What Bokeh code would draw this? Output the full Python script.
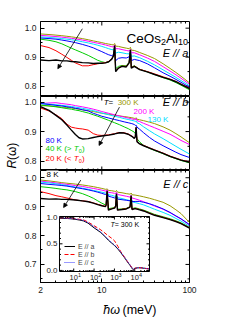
import math
from bokeh.plotting import figure
from bokeh.models import (Range1d, LogAxis, LinearAxis, FixedTicker, PrintfTickFormatter,
                          Label, Arrow, NormalHead, Legend, LegendItem)
from bokeh.layouts import column, row
from bokeh.embed import file_html
from bokeh.resources import INLINE

FONT = "Liberation Sans"

TEMPS = ["300 K", "200 K", "130 K", "80 K", "40 K", "20 K", "8 K"]
COLORS = ["#999900", "#ff00ff", "#00e0ff", "#0000ff", "#00cc00", "#ff0000", "#000000"]
WIDTHS = [1.0, 1.0, 1.0, 1.0, 1.0, 1.0, 1.4]

# ---------------- E // a ----------------
E_A = [2, 2.5, 3, 3.5, 4, 4.5, 5, 6, 7, 8, 9, 10, 11, 12, 13, 13.6, 14.0, 14.4, 15.5, 17,
       19, 20.5, 21.2, 21.7, 23.5, 27, 33, 40, 50, 60, 70, 80, 100]
RA_300 = [0.980, 0.978, 0.976, 0.974, 0.972, 0.970, 0.968, 0.964, 0.960, 0.956, 0.953, 0.950,
          0.947, 0.945, 0.943, 0.942, 0.947, 0.938, 0.937, 0.934, 0.931, 0.929, 0.934, 0.924,
          0.923, 0.916, 0.906, 0.895, 0.877, 0.861, 0.847, 0.834, 0.811]
RA_200 = [0.975, 0.973, 0.971, 0.969, 0.967, 0.965, 0.963, 0.959, 0.955, 0.951, 0.948, 0.945,
          0.942, 0.939, 0.936, 0.935, 0.942, 0.929, 0.929, 0.926, 0.923, 0.921, 0.927, 0.915,
          0.915, 0.908, 0.897, 0.885, 0.867, 0.852, 0.839, 0.827, 0.806]
RA_130 = [0.970, 0.968, 0.966, 0.964, 0.962, 0.960, 0.958, 0.953, 0.949, 0.945, 0.941, 0.937,
          0.933, 0.929, 0.926, 0.925, 0.934, 0.914, 0.917, 0.915, 0.912, 0.911, 0.921, 0.903,
          0.904, 0.898, 0.886, 0.873, 0.856, 0.842, 0.830, 0.819, 0.801]
RA_80 = [0.966, 0.964, 0.962, 0.959, 0.956, 0.953, 0.950, 0.944, 0.938, 0.932, 0.925, 0.919,
         0.913, 0.908, 0.905, 0.909, 0.930, 0.888, 0.896, 0.898, 0.897, 0.901, 0.918, 0.888,
         0.892, 0.888, 0.877, 0.863, 0.846, 0.834, 0.823, 0.813, 0.796]
RA_40 = [0.962, 0.958, 0.953, 0.946, 0.938, 0.931, 0.925, 0.915, 0.906, 0.897, 0.889, 0.884,
         0.881, 0.884, 0.893, 0.905, 0.930, 0.860, 0.868, 0.871, 0.870, 0.882, 0.915, 0.866,
         0.870, 0.858, 0.849, 0.840, 0.829, 0.821, 0.812, 0.803, 0.787]
RA_20 = [0.940, 0.933, 0.922, 0.910, 0.899, 0.889, 0.880, 0.870, 0.870, 0.874, 0.877, 0.879,
         0.881, 0.885, 0.894, 0.906, 0.937, 0.852, 0.863, 0.869, 0.868, 0.881, 0.921, 0.864,
         0.869, 0.858, 0.850, 0.842, 0.832, 0.824, 0.816, 0.807, 0.793]
RA_8 = [0.890, 0.888, 0.890, 0.887, 0.887, 0.885, 0.884, 0.881, 0.880, 0.878, 0.879, 0.879,
        0.880, 0.884, 0.893, 0.905, 0.940, 0.850, 0.862, 0.868, 0.866, 0.880, 0.925, 0.862,
        0.868, 0.857, 0.849, 0.840, 0.830, 0.823, 0.815, 0.806, 0.791]

# ---------------- E // b ----------------
E_B = [2, 2.5, 3, 3.5, 4, 4.5, 5, 5.5, 6, 7, 8, 9, 10, 12, 14, 16, 18, 20, 22, 23.5, 24.1,
       24.6, 25.2, 27, 30, 35, 40, 50, 60, 70, 80, 100]
RB_300 = [0.988, 0.987, 0.985, 0.983, 0.982, 0.980, 0.978, 0.976, 0.974, 0.971, 0.968, 0.965,
          0.962, 0.959, 0.956, 0.953, 0.951, 0.949, 0.947, 0.945, 0.944, 0.947, 0.942, 0.940,
          0.937, 0.932, 0.927, 0.916, 0.905, 0.893, 0.882, 0.862]
RB_200 = [0.995, 0.997, 0.998, 0.995, 0.993, 0.991, 0.988, 0.986, 0.984, 0.980, 0.976, 0.972,
          0.968, 0.962, 0.957, 0.953, 0.949, 0.946, 0.943, 0.941, 0.940, 0.945, 0.937, 0.934,
          0.928, 0.920, 0.913, 0.901, 0.891, 0.880, 0.870, 0.856]
RB_130 = [0.995, 0.993, 0.991, 0.989, 0.987, 0.985, 0.983, 0.981, 0.979, 0.975, 0.971, 0.967,
          0.963, 0.957, 0.952, 0.948, 0.944, 0.941, 0.938, 0.936, 0.934, 0.936, 0.930, 0.926,
          0.916, 0.903, 0.892, 0.876, 0.862, 0.850, 0.840, 0.824]
RB_80 = [0.995, 0.992, 0.989, 0.987, 0.984, 0.982, 0.979, 0.977, 0.974, 0.970, 0.962, 0.957,
         0.952, 0.946, 0.941, 0.937, 0.933, 0.930, 0.927, 0.924, 0.921, 0.922, 0.915, 0.908,
         0.896, 0.880, 0.868, 0.852, 0.840, 0.830, 0.822, 0.812]
RB_40 = [0.990, 0.987, 0.984, 0.981, 0.978, 0.976, 0.973, 0.971, 0.968, 0.963, 0.957, 0.952,
         0.947, 0.938, 0.930, 0.923, 0.916, 0.910, 0.903, 0.898, 0.893, 0.892, 0.876, 0.865,
         0.853, 0.843, 0.836, 0.825, 0.815, 0.808, 0.802, 0.794]
RB_20 = [0.980, 0.970, 0.957, 0.944, 0.925, 0.915, 0.912, 0.910, 0.909, 0.905, 0.893, 0.888,
         0.887, 0.889, 0.893, 0.897, 0.896, 0.892, 0.885, 0.878, 0.883, 0.912, 0.867, 0.859,
         0.853, 0.845, 0.838, 0.827, 0.817, 0.810, 0.804, 0.797]
RB_8 = [0.985, 0.972, 0.955, 0.940, 0.922, 0.905, 0.890, 0.879, 0.875, 0.876, 0.880, 0.883,
        0.885, 0.888, 0.892, 0.896, 0.895, 0.891, 0.884, 0.877, 0.882, 0.915, 0.866, 0.858,
        0.852, 0.844, 0.837, 0.826, 0.816, 0.809, 0.803, 0.796]

# ---------------- E // c ----------------
E_C = [2, 2.5, 3, 3.5, 4, 5, 6, 7, 8, 9, 10, 11, 11.2, 11.5, 11.9, 13, 14, 14.4, 14.7, 15.1,
       17, 19, 21, 21.3, 21.6, 22.1, 24, 27, 30, 35, 40, 50, 60, 70, 80, 100]
RC_300 = [0.992, 0.989, 0.986, 0.983, 0.981, 0.978, 0.975, 0.972, 0.969, 0.966, 0.963, 0.960,
          0.959, 0.962, 0.956, 0.955, 0.953, 0.952, 0.956, 0.950, 0.948, 0.945, 0.943, 0.944,
          0.947, 0.941, 0.940, 0.937, 0.934, 0.929, 0.924, 0.915, 0.903, 0.889, 0.876, 0.845]
RC_200 = [0.988, 0.985, 0.982, 0.979, 0.977, 0.973, 0.970, 0.966, 0.963, 0.960, 0.957, 0.954,
          0.953, 0.958, 0.949, 0.948, 0.946, 0.945, 0.950, 0.942, 0.939, 0.936, 0.933, 0.935,
          0.939, 0.930, 0.927, 0.922, 0.917, 0.909, 0.902, 0.891, 0.879, 0.867, 0.857, 0.836]
RC_130 = [0.985, 0.982, 0.979, 0.976, 0.973, 0.968, 0.964, 0.960, 0.956, 0.953, 0.950, 0.947,
          0.946, 0.953, 0.941, 0.939, 0.936, 0.935, 0.943, 0.931, 0.928, 0.924, 0.921, 0.924,
          0.930, 0.917, 0.914, 0.910, 0.906, 0.898, 0.891, 0.880, 0.870, 0.859, 0.850, 0.832]
RC_80 = [0.980, 0.977, 0.975, 0.973, 0.971, 0.966, 0.962, 0.958, 0.954, 0.950, 0.946, 0.942,
         0.942, 0.950, 0.936, 0.933, 0.930, 0.930, 0.940, 0.926, 0.924, 0.922, 0.920, 0.924,
         0.930, 0.917, 0.918, 0.918, 0.915, 0.910, 0.904, 0.892, 0.880, 0.868, 0.858, 0.838]
RC_40 = [0.969, 0.966, 0.963, 0.960, 0.958, 0.952, 0.945, 0.937, 0.929, 0.920, 0.912, 0.906,
         0.908, 0.945, 0.893, 0.895, 0.897, 0.903, 0.935, 0.891, 0.892, 0.894, 0.900, 0.915,
         0.930, 0.893, 0.896, 0.892, 0.888, 0.880, 0.873, 0.865, 0.858, 0.851, 0.844, 0.828]
RC_20 = [0.952, 0.945, 0.938, 0.934, 0.930, 0.923, 0.920, 0.918, 0.913, 0.908, 0.904, 0.901,
         0.906, 0.952, 0.889, 0.893, 0.896, 0.903, 0.942, 0.889, 0.891, 0.893, 0.899, 0.918,
         0.935, 0.891, 0.894, 0.890, 0.886, 0.878, 0.871, 0.863, 0.856, 0.849, 0.842, 0.827]
RC_8 = [0.928, 0.926, 0.927, 0.925, 0.925, 0.923, 0.920, 0.917, 0.912, 0.907, 0.903, 0.900,
        0.905, 0.955, 0.888, 0.892, 0.895, 0.902, 0.945, 0.888, 0.890, 0.892, 0.898, 0.920,
        0.938, 0.890, 0.893, 0.889, 0.885, 0.877, 0.870, 0.862, 0.855, 0.848, 0.841, 0.826]

# ---------------- inset: T = 300 K, wide range ----------------
E_IN = [2, 5, 10, 20, 30, 50, 100, 200, 300, 500, 700, 1000, 1500, 2000, 3000, 4000, 5000,
        6000, 7000, 8000, 9000, 10000, 15000, 20000, 30000, 50000]
RIN_A = [0.98, 0.975, 0.965, 0.945, 0.93, 0.89, 0.80, 0.72, 0.66, 0.57, 0.52, 0.47, 0.40,
         0.34, 0.25, 0.18, 0.13, 0.09, 0.05, 0.02, 0.02, 0.04, 0.05, 0.05, 0.04, 0.03]
RIN_B = [0.99, 0.985, 0.975, 0.96, 0.95, 0.91, 0.84, 0.77, 0.72, 0.65, 0.61, 0.56, 0.45,
         0.36, 0.26, 0.19, 0.14, 0.10, 0.06, 0.03, 0.02, 0.04, 0.05, 0.05, 0.04, 0.03]
RIN_C = [0.99, 0.98, 0.97, 0.955, 0.94, 0.90, 0.82, 0.73, 0.67, 0.58, 0.53, 0.48, 0.41,
         0.35, 0.26, 0.19, 0.14, 0.10, 0.06, 0.03, 0.02, 0.04, 0.05, 0.05, 0.04, 0.03]

X_MAJOR = [2, 10, 100]
X_MINOR = [3, 4, 5, 6, 7, 8, 9, 20, 30, 40, 50, 60, 70, 80, 90]
Y_MAJOR = [0.7, 0.8, 0.9, 1.0]
Y_MINOR = [0.65, 0.75, 0.85, 0.95]

INSET_X = (2.0, 5.3e4)
INSET_Y = (-0.02, 1.013)
INSET_XTICKS = [10, 100, 1000, 10000]
INSET_XEXP = ["1", "2", "3", "4"]
INSET_XMINOR = [m * 10 ** k for k in range(0, 5) for m in range(2, 10)]
INSET_YTICKS = [0.0, 0.5, 1.0]
INSET_YMINOR = [0.1, 0.2, 0.3, 0.4, 0.6, 0.7, 0.8, 0.9]

FRAME_W = 149
LEFT = 20      # border left of each panel (a label strip of 20 px sits further left)
RIGHT = 10
TOTAL_H = 318


def style_axis(ax):
    ax.axis_line_color = "black"
    ax.axis_line_width = 1
    ax.major_tick_in = 4
    ax.major_tick_out = 0
    ax.minor_tick_in = 2
    ax.minor_tick_out = 0
    ax.major_tick_line_color = "black"
    ax.minor_tick_line_color = "black"
    ax.major_label_text_font = FONT
    ax.major_label_text_font_size = "8.5px"
    ax.major_label_text_color = "#222222"
    ax.major_label_standoff = 4


def frame_ticks(p, yr, frame_h, bottom):
    ppy = frame_h / (yr[1] - yr[0])
    ppd = FRAME_W / math.log10(100 / 2)
    inner_major = [v for v in X_MAJOR if 2 < v < 100]
    for vals, ln in ((inner_major, 4), (X_MINOR, 2)):
        n = len(vals)
        d = ln / ppy
        p.segment(x0=vals, y0=[yr[1]] * n, x1=vals, y1=[yr[1] - d] * n,
                  line_color="black", line_width=1)
        if bottom:
            p.segment(x0=vals, y0=[yr[0]] * n, x1=vals, y1=[yr[0] + d] * n,
                      line_color="black", line_width=1)
    ymaj = [v for v in Y_MAJOR if yr[0] < v < yr[1]]
    ymin = [v for v in Y_MINOR if yr[0] < v < yr[1]]
    for vals, ln in ((ymaj, 4), (ymin, 2)):
        n = len(vals)
        f = 10 ** (ln / ppd)
        p.segment(x0=[100] * n, y0=vals, x1=[100 / f] * n, y1=vals,
                  line_color="black", line_width=1)


def make_panel(yr, frame_h, top, bottom, xlabels):
    p = figure(x_axis_type="log", x_range=Range1d(2, 100), y_range=Range1d(*yr),
               frame_width=FRAME_W, frame_height=frame_h,
               output_backend="svg", toolbar_location=None,
               x_axis_location=None, y_axis_location=None,
               min_border_left=LEFT, min_border_right=RIGHT,
               min_border_top=top, min_border_bottom=bottom)
    p.grid.grid_line_color = None
    p.outline_line_color = "black"
    p.background_fill_color = "white"
    p.border_fill_color = "white"
    if xlabels:
        ax = LogAxis(ticker=FixedTicker(ticks=X_MAJOR, minor_ticks=X_MINOR),
                     formatter=PrintfTickFormatter(format="%d"))
        style_axis(ax)
        p.add_layout(ax, "below")
    ax = LinearAxis(ticker=FixedTicker(ticks=Y_MAJOR, minor_ticks=Y_MINOR),
                    formatter=PrintfTickFormatter(format="%.1f"))
    style_axis(ax)
    p.add_layout(ax, "left")
    frame_ticks(p, yr, frame_h, not xlabels)
    return p


def draw_series(p, energies, series):
    for vals, col, w in zip(series, COLORS, WIDTHS):
        p.line(energies, vals, line_color=col, line_width=w)


def text(p, x, y, s, size="8px", color="black", style="normal", align="left",
         baseline="middle", dx=0, dy=0, angle=0, **kw):
    lab = Label(x=x, y=y, text=s, text_font=FONT, text_font_size=size, text_color=color,
                text_font_style=style, text_align=align, text_baseline=baseline,
                x_offset=dx, y_offset=dy, angle=angle, angle_units="deg", **kw)
    p.add_layout(lab)
    return lab


def arrow(p, x0, y0, x1, y1):
    p.add_layout(Arrow(end=NormalHead(size=4, line_color="black", fill_color="black",
                                      line_width=0.8),
                       x_start=x0, y_start=y0, x_end=x1, y_end=y1,
                       line_color="black", line_width=0.8))


def blank(width, height):
    f = figure(width=width, height=height, x_range=Range1d(0, width),
               y_range=Range1d(0, height), output_backend="svg", toolbar_location=None,
               x_axis_location=None, y_axis_location=None, min_border=0)
    f.grid.grid_line_color = None
    f.outline_line_color = None
    return f


# ---------------- panel a ----------------
pa = make_panel((0.764, 1.023), 75, 21, 0, False)
draw_series(pa, E_A, [RA_300, RA_200, RA_130, RA_80, RA_40, RA_20, RA_8])
arrow(pa, 6.0, 0.998, 3.15, 0.860)
text(pa, 19.1, 0.963, "CeOs", size="13.5px", baseline="alphabetic")
text(pa, 19.1, 0.963, "2", size="9px", baseline="alphabetic", dx=34.5, dy=-3)
text(pa, 19.1, 0.963, "Al", size="13.5px", baseline="alphabetic", dx=39.5)
text(pa, 19.1, 0.963, "10", size="9px", baseline="alphabetic", dx=51.5, dy=-3)
text(pa, 97, 0.913, "E // a", size="11px", style="italic", align="right")

# ---------------- panel b ----------------
pb = make_panel((0.768, 1.019), 74, 0, 0, False)
draw_series(pb, E_B, [RB_300, RB_200, RB_130, RB_80, RB_40, RB_20, RB_8])
arrow(pb, 15.9, 0.983, 9.3, 0.853)
text(pb, 10.5, 1.0, "T", style="italic")
text(pb, 10.5, 1.0, " = ", dx=4.9)
text(pb, 10.5, 1.0, "300 K", color=COLORS[0], dx=14.0)
text(pb, 23.0, 0.968, "200 K", color=COLORS[1])
text(pb, 33.2, 0.940, "130 K", color=COLORS[2])
text(pb, 97, 1.0, "E // b", size="11px", style="italic", align="right")
text(pb, 2.28, 0.871, "80 K", color=COLORS[3])
for yv, lead, tail, col in ((0.841, "40 K (> ", ")", COLORS[4]),
                            (0.809, "20 K (< ", ")", COLORS[5])):
    text(pb, 2.28, yv, lead, color=col)
    text(pb, 2.28, yv, "T", color=col, style="italic", dx=28.2)
    text(pb, 2.28, yv, "0", color=col, size="5.5px", dx=33.2, dy=-2.5)
    text(pb, 2.28, yv, tail, color=col, dx=36.4)

# ---------------- panel c ----------------
pc = make_panel((0.6375, 1.025), 112, 0, 16, True)
draw_series(pc, E_C, [RC_300, RC_200, RC_130, RC_80, RC_40, RC_20, RC_8])
arrow(pc, 5.76, 0.992, 3.67, 0.897)
text(pc, 97, 0.980, "E // c", size="11px", style="italic", align="right")
text(pc, 2.34, 1.012, "8 K", size="8px", background_fill_color="white")

# inset coordinate system (fractions of the panel-c frame)
BOX = (0.1275, 0.7315, 0.0982, 0.5893)  # left, right, bottom, top
lx0, lx1 = math.log10(INSET_X[0]), math.log10(INSET_X[1])
dec_per_frac = (lx1 - lx0) / (BOX[1] - BOX[0])
xr = (10 ** (lx0 - BOX[0] * dec_per_frac), 10 ** (lx0 + (1 - BOX[0]) * dec_per_frac))
y_per_frac = (INSET_Y[1] - INSET_Y[0]) / (BOX[3] - BOX[2])
yr = (INSET_Y[0] - BOX[2] * y_per_frac, INSET_Y[0] + (1 - BOX[2]) * y_per_frac)
pc.extra_x_ranges = {"inset": Range1d(*xr)}
pc.extra_y_ranges = {"inset": Range1d(*yr)}
px_per_dec = FRAME_W / dec_per_frac
px_per_y = 112 / y_per_frac
IN = dict(x_range_name="inset", y_range_name="inset")

pc.quad(left=INSET_X[0], right=INSET_X[1], bottom=INSET_Y[0], top=INSET_Y[1],
        fill_color="white", line_color="black", line_width=1, **IN)

ra = pc.line(E_IN, RIN_A, line_color="black", line_width=1, **IN)
rb = pc.line(E_IN, RIN_B, line_color="#ff0000", line_width=1, line_dash="4 2", **IN)
rc = pc.line(E_IN, RIN_C, line_color="#3333ff", line_width=1, line_dash="1 1", **IN)


def inset_xticks(vals, length_px):
    ly = length_px / px_per_y
    n = len(vals)
    pc.segment(x0=vals, y0=[INSET_Y[0]] * n, x1=vals, y1=[INSET_Y[0] + ly] * n,
               line_color="black", line_width=1, **IN)
    pc.segment(x0=vals, y0=[INSET_Y[1]] * n, x1=vals, y1=[INSET_Y[1] - ly] * n,
               line_color="black", line_width=1, **IN)


def inset_yticks(vals, length_px):
    f = 10 ** (length_px / px_per_dec)
    n = len(vals)
    pc.segment(x0=[INSET_X[0]] * n, y0=vals, x1=[INSET_X[0] * f] * n, y1=vals,
               line_color="black", line_width=1, **IN)
    pc.segment(x0=[INSET_X[1]] * n, y0=vals, x1=[INSET_X[1] / f] * n, y1=vals,
               line_color="black", line_width=1, **IN)


inset_xticks(INSET_XTICKS, 3)
inset_xticks([v for v in INSET_XMINOR if INSET_X[0] < v < INSET_X[1]], 1.5)
inset_yticks(INSET_YTICKS, 3)
inset_yticks(INSET_YMINOR, 1.5)

for xv, ex in zip(INSET_XTICKS, INSET_XEXP):
    text(pc, xv, INSET_Y[0], "10", size="7.5px", align="center", baseline="top", dy=-3,
         color="#222222", **IN)
    text(pc, xv, INSET_Y[0], ex, size="5.5px", align="left", baseline="top", dx=4.2, dy=-1,
         color="#222222", **IN)
for yv in INSET_YTICKS:
    text(pc, INSET_X[0], yv, "%.1f" % yv, size="8px", align="right", dx=-2, color="#222222", **IN)

text(pc, 640, 0.86, "T", size="7px", style="italic", **IN)
text(pc, 640, 0.86, " = 300 K", size="7px", dx=4.3, **IN)

leg = Legend(items=[LegendItem(label="E // a", renderers=[ra]),
                    LegendItem(label="E // b", renderers=[rb]),
                    LegendItem(label="E // c", renderers=[rc])],
             location=(24, 16), glyph_width=11, glyph_height=8, label_height=8,
             label_standoff=3, spacing=0, padding=0, margin=0,
             label_text_font=FONT, label_text_font_size="7px",
             border_line_alpha=0, background_fill_alpha=0)
pc.add_layout(leg)

# ---------------- axis titles (strips outside the panels) ----------------
xlab = blank(LEFT + FRAME_W + RIGHT, 20)
text(xlab, LEFT + 75.5, 9, "ħω", size="12.5px", style="italic", align="right")
text(xlab, LEFT + 78.5, 9, "(meV)", size="12.5px")

ylab = blank(20, TOTAL_H)
text(ylab, 11.5, TOTAL_H - 168, "R", size="12px", style="italic", angle=90)
text(ylab, 11.5, TOTAL_H - 168, "(ω)", size="12px", angle=90, dy=8.5)

layout = row(ylab, column(pa, pb, pc, xlab, spacing=0), spacing=0)
open("out.html", "w").write(file_html(layout, INLINE))
